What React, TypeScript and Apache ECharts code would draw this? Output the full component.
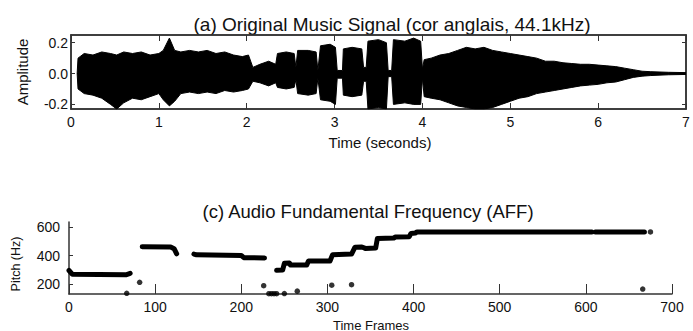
import React, { useEffect, useRef } from "react";
import * as echarts from "echarts";

// (a) waveform envelope: time (s), upper and lower amplitude
const envTime = [0.07,0.08,0.15,0.25,0.35,0.45,0.52,0.6,0.7,0.8,0.9,1.0,1.05,1.12,1.18,1.25,1.35,1.45,1.55,1.65,1.75,1.85,1.95,2.02,2.07,2.15,2.25,2.33,2.35,2.45,2.54,2.56,2.58,2.7,2.79,2.81,2.84,2.95,3.01,3.03,3.09,3.1,3.2,3.31,3.33,3.36,3.38,3.5,3.59,3.61,3.65,3.67,3.8,3.9,3.98,4.0,4.02,4.1,4.2,4.3,4.4,4.5,4.6,4.7,4.8,4.9,5.0,5.1,5.2,5.3,5.4,5.5,5.6,5.7,5.8,5.9,6.0,6.1,6.2,6.3,6.4,6.5,6.6,6.8,7.0];
const envUpper = [0,0.10,0.13,0.12,0.14,0.13,0.12,0.14,0.13,0.14,0.12,0.13,0.15,0.23,0.15,0.14,0.15,0.14,0.15,0.13,0.14,0.12,0.11,0.12,0.04,0.06,0.08,0.06,0.13,0.14,0.13,0.04,0.15,0.15,0.14,0.02,0.18,0.19,0.17,0.02,0.02,0.16,0.17,0.16,0.04,0.04,0.21,0.22,0.20,0.02,0.02,0.22,0.21,0.23,0.21,0.03,0.09,0.10,0.12,0.13,0.15,0.17,0.16,0.17,0.15,0.14,0.13,0.12,0.11,0.10,0.08,0.08,0.07,0.065,0.06,0.06,0.055,0.05,0.045,0.035,0.025,0.015,0.012,0.008,0.006];
const envLower = [0,-0.10,-0.13,-0.14,-0.16,-0.20,-0.23,-0.19,-0.16,-0.17,-0.15,-0.13,-0.17,-0.21,-0.18,-0.13,-0.12,-0.13,-0.12,-0.13,-0.11,-0.12,-0.11,-0.10,-0.05,-0.06,-0.08,-0.06,-0.09,-0.10,-0.09,-0.04,-0.13,-0.14,-0.13,-0.03,-0.17,-0.18,-0.20,-0.03,-0.03,-0.14,-0.15,-0.14,-0.05,-0.05,-0.23,-0.22,-0.23,-0.02,-0.02,-0.20,-0.19,-0.20,-0.20,-0.03,-0.15,-0.16,-0.17,-0.19,-0.21,-0.22,-0.23,-0.23,-0.22,-0.20,-0.18,-0.16,-0.15,-0.13,-0.12,-0.11,-0.10,-0.09,-0.08,-0.075,-0.07,-0.06,-0.055,-0.04,-0.025,-0.017,-0.013,-0.008,-0.006];

const ampTicks = [-0.2, 0, 0.2];

// (c) pitch track: frames and Hz, null separates segments
const trackFrames = [0, 4, 66, 71, null, 85, 118, 122, 125, null, 145, 148, 200, 203, 227, null, 241, 248, 250, 256, 257, 276, 278, 303, 306, 328, 332, 340, 344, 356, 358, 377, 379, 395, 397, 402, 404, 607, null, 611, 668];
const trackHz = [295, 268, 265, 275, null, 462, 460, 448, 412, null, 410, 405, 400, 385, 383, null, 296, 298, 345, 347, 333, 333, 361, 362, 406, 410, 458, 460, 450, 452, 520, 523, 530, 532, 555, 558, 565, 565, null, 565, 565];
const dotFrames = [67, 82, 226, 232, 235, 238, 241, 250, 265, 305, 328, 666, 675];
const dotHz = [135, 212, 188, 132, 132, 132, 132, 133, 150, 192, 195, 165, 565];
const pitchTicks = [200, 400, 600];

const FONT = "'Liberation Sans', Arial, sans-serif";
const INK = "#111";
const AX = "#333";

export default function App() {
  const ref = useRef<HTMLDivElement>(null);
  useEffect(() => {
    if (!ref.current) return;
    const chart = echarts.init(ref.current, undefined, { renderer: "svg" });

    const segs: number[][][] = [];
    let cur: number[][] = [];
    trackFrames.forEach((f, i) => {
      const h = trackHz[i];
      if (f === null || h === null) {
        if (cur.length) segs.push(cur);
        cur = [];
      } else cur.push([f, h]);
    });
    if (cur.length) segs.push(cur);

    const lbl = { fontSize: 14, color: INK, fontFamily: FONT };

    const option: any = {
      animation: false,
      backgroundColor: "#fff",
      grid: [
        { left: 71, top: 35, width: 615, height: 74, show: true, borderColor: AX, borderWidth: 1.5, backgroundColor: "transparent" },
        { left: 69, top: 222, width: 603, height: 72 },
      ],
      xAxis: [
        {
          gridIndex: 0, type: "value", min: 0, max: 7, interval: 1, position: "bottom",
          axisLine: { onZero: false, lineStyle: { color: AX, width: 1.5 } },
          axisTick: { inside: true, length: 6, lineStyle: { color: AX } },
          axisLabel: { ...lbl, margin: 6 },
          splitLine: { show: false },
        },
        {
          gridIndex: 0, type: "value", min: 0, max: 7, interval: 1, position: "top",
          axisLine: { onZero: false, lineStyle: { color: AX, width: 1.5 } },
          axisTick: { inside: true, length: 6, lineStyle: { color: AX } },
          axisLabel: { show: false },
          splitLine: { show: false },
        },
        {
          gridIndex: 1, type: "value", min: 0, max: 700, interval: 100,
          axisLine: { onZero: false, lineStyle: { color: AX, width: 1.5 } },
          axisTick: { inside: true, length: 10, lineStyle: { color: AX } },
          axisLabel: { ...lbl, margin: 6 },
          splitLine: { show: false },
        },
      ],
      yAxis: [
        {
          gridIndex: 0, type: "value", min: -0.23, max: 0.25,
          axisLine: { onZero: false, lineStyle: { color: AX, width: 1.5 } },
          axisTick: { inside: true, length: 4, customValues: ampTicks, lineStyle: { color: AX } },
          axisLabel: { ...lbl, margin: 3, customValues: ampTicks, formatter: (v: number) => v.toFixed(1) },
          splitLine: { show: false },
        },
        {
          gridIndex: 0, type: "value", min: -0.23, max: 0.25, position: "right",
          axisLine: { onZero: false, lineStyle: { color: AX, width: 1.5 } },
          axisTick: { inside: true, length: 4, customValues: ampTicks, lineStyle: { color: AX } },
          axisLabel: { show: false },
          splitLine: { show: false },
        },
        {
          gridIndex: 1, type: "value", min: 130, max: 635,
          axisLine: { show: true, onZero: false, lineStyle: { color: AX, width: 1.5 } },
          axisTick: { show: true, inside: true, length: 4, customValues: pitchTicks, lineStyle: { color: AX } },
          axisLabel: { ...lbl, margin: 9, customValues: pitchTicks },
          splitLine: { show: false },
        },
      ],
      series: [
        {
          type: "line", xAxisIndex: 0, yAxisIndex: 0, symbol: "none",
          data: envTime.map((t, i) => [t, envUpper[i]]),
          lineStyle: { color: "#000", width: 1 },
          areaStyle: { color: "#000", opacity: 1, origin: -0.004 },
        },
        {
          type: "line", xAxisIndex: 0, yAxisIndex: 0, symbol: "none",
          data: envTime.map((t, i) => [t, envLower[i]]),
          lineStyle: { color: "#000", width: 1 },
          areaStyle: { color: "#000", opacity: 1, origin: 0.004 },
        },
        ...segs.map((s) => ({
          type: "line", xAxisIndex: 2, yAxisIndex: 2, symbol: "none",
          data: s,
          lineStyle: { color: "#000", width: 5, cap: "round", join: "round" },
        })),
        {
          type: "scatter", xAxisIndex: 2, yAxisIndex: 2, symbol: "circle", symbolSize: 5.5,
          data: dotFrames.map((f, i) => [f, dotHz[i]]),
          itemStyle: { color: "#000" },
        },
      ],
      graphic: [
        { type: "text", x: 392, y: 24, style: { text: "(a) Original Music Signal (cor anglais, 44.1kHz)", fill: INK, font: `19px ${FONT}`, align: "center", verticalAlign: "middle" } },
        { type: "text", x: 22, y: 72, rotation: Math.PI / 2, style: { text: "Amplitude", fill: INK, font: `15px ${FONT}`, align: "center", verticalAlign: "middle" } },
        { type: "text", x: 380, y: 142, style: { text: "Time (seconds)", fill: INK, font: `15px ${FONT}`, align: "center", verticalAlign: "middle" } },
        { type: "text", x: 368, y: 211, style: { text: "(c) Audio Fundamental Frequency (AFF)", fill: INK, font: `18.5px ${FONT}`, align: "center", verticalAlign: "middle" } },
        { type: "text", x: 16, y: 264, rotation: Math.PI / 2, style: { text: "Pitch (Hz)", fill: INK, font: `12.5px ${FONT}`, align: "center", verticalAlign: "middle" } },
        { type: "text", x: 371, y: 325, style: { text: "Time Frames", fill: INK, font: `13px ${FONT}`, align: "center", verticalAlign: "middle" } },
      ],
    };
    chart.setOption(option);
    return () => chart.dispose();
  }, []);
  return <div ref={ref} style={{ position: "absolute", left: 0, top: 0, width: 693, height: 331 }} />;
}
